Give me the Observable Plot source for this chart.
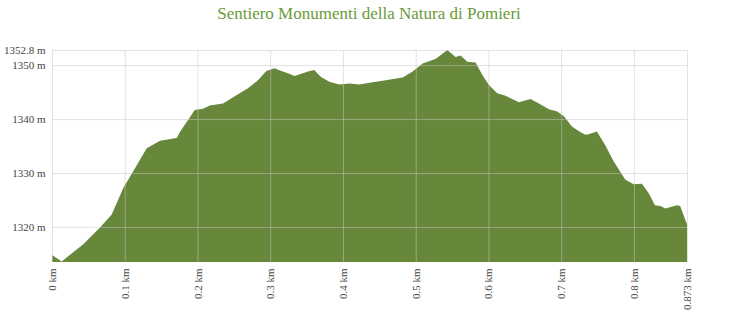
<!DOCTYPE html>
<html>
<head>
<meta charset="utf-8">
<script src="https://cdn.jsdelivr.net/npm/d3@7"></script>
<script src="https://cdn.jsdelivr.net/npm/@observablehq/plot@0.6"></script>
<style>
  html, body { margin: 0; padding: 0; background: #fff; }
  #title { height: 30px; line-height: 28px; text-align: center; font-family: "Liberation Serif", serif; font-size: 17px; color: #6a9a3a; }
  svg { display: block; }
</style>
</head>
<body>
<div id="title">Sentiero Monumenti della Natura di Pomieri</div>
<div id="chart"></div>
<script>
const distanceKm = [0.000,0.0133,0.0430,0.0660,0.0821,0.0980,0.1141,0.1302,0.1485,0.1714,0.1759,0.1824,0.1962,0.2076,0.2168,0.2351,0.2557,0.2694,0.2832,0.2946,0.3061,0.3152,0.3244,0.3336,0.3519,0.3605,0.3698,0.3812,0.3949,0.4087,0.4224,0.4408,0.4591,0.4729,0.4821,0.4958,0.5096,0.5278,0.5434,0.5549,0.5618,0.5709,0.5824,0.5915,0.6007,0.6121,0.6236,0.6419,0.6580,0.6694,0.6832,0.6946,0.7038,0.7148,0.7240,0.7331,0.7377,0.7491,0.7605,0.7721,0.7880,0.7996,0.8110,0.8202,0.8290,0.8364,0.8433,0.8591,0.8636,0.8730];
const elevationM = [1314.8,1313.6,1316.8,1319.9,1322.3,1327.2,1330.9,1334.6,1336.0,1336.5,1337.6,1338.9,1341.7,1341.9,1342.5,1342.9,1344.6,1345.7,1347.2,1348.9,1349.4,1348.9,1348.5,1348.0,1348.8,1349.1,1347.8,1346.9,1346.4,1346.6,1346.4,1346.8,1347.2,1347.5,1347.7,1348.8,1350.3,1351.2,1352.8,1351.5,1351.8,1350.6,1350.5,1348.2,1346.3,1344.8,1344.3,1343.1,1343.7,1342.9,1341.8,1341.4,1340.5,1338.6,1337.8,1337.1,1337.2,1337.7,1335.2,1332.2,1328.8,1327.9,1328.0,1326.3,1324.0,1323.9,1323.4,1324.0,1323.9,1320.5];
const xTicks = [0,0.1,0.2,0.3,0.4,0.5,0.6,0.7,0.8,0.873];
const yTicks = [1320,1330,1340,1350,1352.8];
const yMin = 1313.5, yMax = 1352.8;

const data = distanceKm.map((d, i) => ({km: d, ele: elevationM[i]}));

const chart = Plot.plot({
  width: 738,
  height: 284,
  marginLeft: 52,
  marginRight: 51,
  marginTop: 20,
  marginBottom: 52,
  style: {fontFamily: "Liberation Serif, serif", fontSize: "11px", color: "#444", background: "#fff"},
  x: {domain: [0, 0.873], ticks: xTicks, tickFormat: d => d + " km", tickRotate: -90, tickSize: 0, tickPadding: 6, label: null},
  y: {domain: [yMin, yMax], ticks: yTicks, tickFormat: d => d + " m", tickSize: 0, tickPadding: 7, label: null},
  marks: [
    Plot.areaY(data, {x: "km", y1: () => yMin, y2: "ele", fill: "#67883b"}),
    Plot.gridY(yTicks, {stroke: "#c8c8c8", strokeOpacity: 0.5}),
    Plot.gridX(xTicks, {stroke: "#c8c8c8", strokeOpacity: 0.5})
  ]
});
document.getElementById("chart").appendChild(chart);
</script>
</body>
</html>
